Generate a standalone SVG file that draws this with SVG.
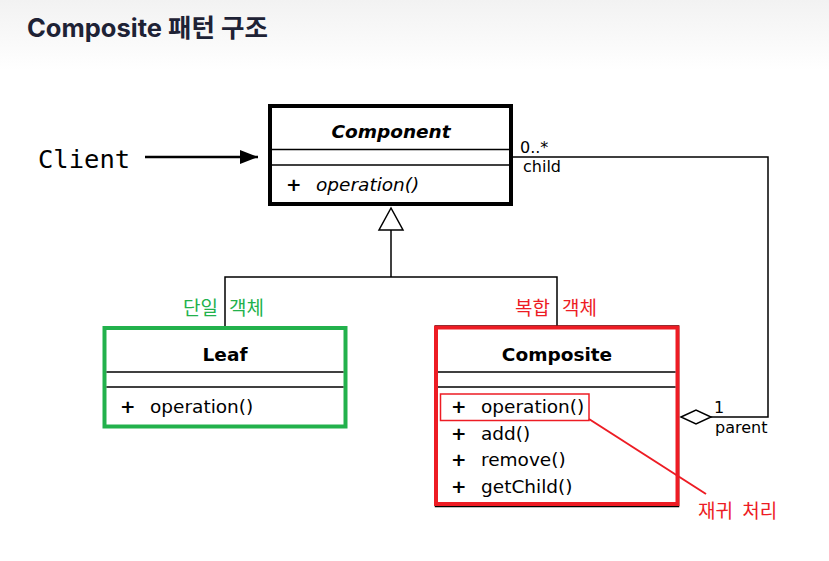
<svg xmlns="http://www.w3.org/2000/svg" width="829" height="561" viewBox="0 0 829 561">
<defs>
<linearGradient id="bg" x1="0" y1="0" x2="0" y2="1">
<stop offset="0" stop-color="#f2f2f2"/>
<stop offset="1" stop-color="#ffffff"/>
</linearGradient>
<marker id="arrow" markerWidth="18" markerHeight="14" refX="18" refY="7" orient="auto" markerUnits="userSpaceOnUse">
<path d="M0,0 L18,7 L0,14 Z" fill="#000"/>
</marker>
</defs>
<style>
.uml{font-family:"DejaVu Sans","Noto Sans",sans-serif;font-size:18.5px;fill:#000}
.b{font-weight:700}
.i{font-style:italic}
.ko{font-family:"Noto Sans CJK KR","DejaVu Sans",sans-serif;font-size:19px}
.box{fill:#fff}
.div{stroke:#000;stroke-width:1.5}
.conn{fill:none;stroke:#000;stroke-width:1.5}
.mult{font-size:16px}
</style>
<rect x="0" y="0" width="829" height="70" fill="url(#bg)"/>
<rect x="0" y="70" width="829" height="491" fill="#fff"/>
<text x="27" y="37" font-family="Inter,'Noto Sans CJK KR',sans-serif" font-size="25.5" font-weight="700" fill="#1e2235">Composite 패턴 구조</text>

<g id="connectors">
<line x1="145" y1="157" x2="258" y2="157" stroke="#000" stroke-width="2.5" marker-end="url(#arrow)"/>
<polyline class="conn" points="512,157 768,157 768,417 711,417"/>
<polygon points="681,417 696,410 711,417 696,424" fill="#fff" stroke="#000" stroke-width="1.5"/>
<polygon points="391,208 379,230 403,230" fill="#fff" stroke="#000" stroke-width="1.5"/>
<polyline class="conn" points="391,230 391,277"/>
<polyline class="conn" points="225,326 225,277 557,277 557,326"/>
</g>

<g id="client">
<text x="38" y="168" font-family="'DejaVu Sans Mono','Liberation Mono',monospace" font-size="25.5" fill="#000">Client</text>
</g>

<g id="component">
<rect class="box" x="270" y="106" width="241" height="98" stroke="#000" stroke-width="4"/>
<line class="div" x1="272" y1="149.5" x2="509" y2="149.5"/>
<line class="div" x1="272" y1="165" x2="509" y2="165"/>
<text class="uml b i" x="391" y="138" text-anchor="middle">Component</text>
<text class="uml b" x="286" y="191">+</text>
<text class="uml i" x="316" y="191">operation()</text>
</g>

<g id="multiplicity">
<text class="uml mult" x="520" y="153">0..*</text>
<text class="uml mult" x="523" y="172">child</text>
<text class="uml mult" x="714" y="413">1</text>
<text class="uml mult" x="715" y="433">parent</text>
</g>

<g id="leaf">
<rect class="box" x="104.5" y="328" width="241" height="98.5" stroke="#22b14c" stroke-width="4"/>
<line class="div" x1="106.5" y1="372" x2="343.5" y2="372"/>
<line class="div" x1="106.5" y1="387" x2="343.5" y2="387"/>
<text class="uml b" x="225" y="361" text-anchor="middle">Leaf</text>
<text class="uml b" x="120" y="413">+</text>
<text class="uml" x="150" y="413">operation()</text>
<text class="ko" y="315" fill="#22b14c"><tspan x="183">단일</tspan><tspan x="229">객체</tspan></text>
</g>

<g id="composite">
<rect class="box" x="435.5" y="326" width="243" height="180.5" stroke="#000" stroke-width="1.5"/>
<rect x="436" y="327.5" width="241.5" height="176.5" fill="none" stroke="#ed1c24" stroke-width="4"/>
<line class="div" x1="438" y1="372" x2="675.5" y2="372"/>
<line class="div" x1="438" y1="387" x2="675.5" y2="387"/>
<text class="uml b" x="557" y="361" text-anchor="middle">Composite</text>
<rect x="440.5" y="394" width="148.5" height="26.5" fill="none" stroke="#ed1c24" stroke-width="1.5"/>
<text class="uml b" x="451" y="413">+</text>
<text class="uml" x="481" y="413">operation()</text>
<text class="uml b" x="451" y="440">+</text>
<text class="uml" x="481" y="440">add()</text>
<text class="uml b" x="451" y="466">+</text>
<text class="uml" x="481" y="466">remove()</text>
<text class="uml b" x="451" y="493">+</text>
<text class="uml" x="481" y="493">getChild()</text>
<text class="ko" y="315" fill="#ed1c24"><tspan x="515">복합</tspan><tspan x="562">객체</tspan></text>
</g>

<g id="note">
<line x1="589" y1="419" x2="706" y2="494" stroke="#ed1c24" stroke-width="2"/>
<text class="ko" x="698" y="518" fill="#ed1c24" word-spacing="5">재귀 처리</text>
</g>
</svg>
